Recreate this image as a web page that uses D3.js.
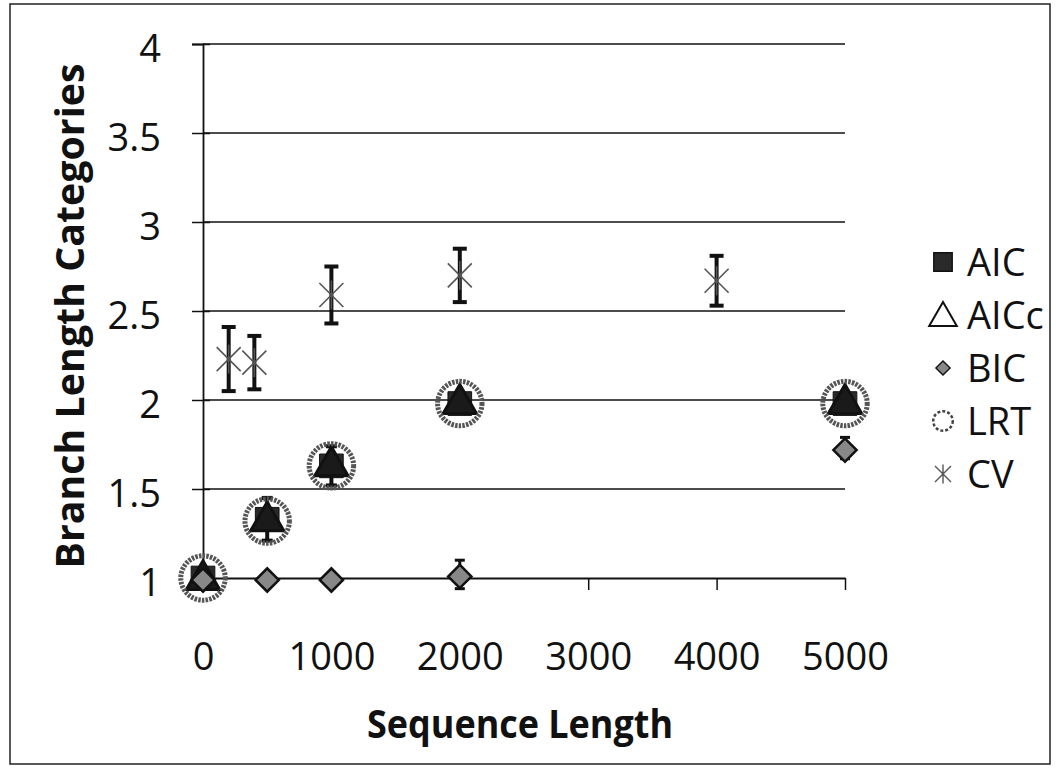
<!DOCTYPE html>
<html>
<head>
<meta charset="utf-8">
<script src="https://cdn.jsdelivr.net/npm/d3@7"></script>
<style>
  body { margin: 0; background: #fff; }
  svg { display: block; font-family: "Open Sans", sans-serif; }
</style>
</head>
<body>
<svg id="chart" width="1058" height="772"></svg>
<script>
// values
const seqLen = [0, 500, 1000, 2000, 5000];
const aic  = [1, 1.33, 1.63, 1.98, 1.98];
const aicErr = [0, 0.12, 0.11, 0.03, 0.03];
const aicc = [1, 1.33, 1.64, 1.99, 1.99];
const bic  = [1, 1.0, 1.0, 1.02, 1.73];
const bicErr = [0, 0, 0, 0.08, 0.06];
const lrt  = [1, 1.32, 1.63, 1.98, 1.98];
const cvLen = [200, 400, 1000, 2000, 4000];
const cv    = [2.23, 2.21, 2.59, 2.70, 2.67];
const cvErr = [0.18, 0.15, 0.16, 0.15, 0.14];
const yTicks = [1, 1.5, 2, 2.5, 3, 3.5, 4];
const xTicks = [0, 1000, 2000, 3000, 4000, 5000];
const legendNames = ["AIC", "AICc", "BIC", "LRT", "CV"];

const svg = d3.select("#chart");

const x = d3.scaleLinear().domain([0, 5000]).range([203, 845]);
const y = d3.scaleLinear().domain([1, 4]).range([578, 44]);

// outer frame
svg.append("rect")
    .attr("x", 10).attr("y", 4)
    .attr("width", 1040).attr("height", 760)
    .attr("fill", "none").attr("stroke", "#222").attr("stroke-width", 1.5);

// gridlines
svg.append("g")
    .selectAll("line")
    .data(yTicks.slice(1))
    .join("line")
    .attr("x1", x(0)).attr("x2", x(5000))
    .attr("y1", d => y(d)).attr("y2", d => y(d))
    .attr("stroke", "#111").attr("stroke-width", 1.5);

// y axis
const yAxis = svg.append("g")
    .attr("transform", `translate(${x(0)},0)`)
    .call(d3.axisLeft(y).tickValues(yTicks).tickSize(11).tickPadding(31).tickFormat(d => d));
yAxis.select(".domain").attr("stroke", "#111").attr("stroke-width", 1.8);
yAxis.selectAll(".tick line").attr("x1", 7).attr("stroke", "#111").attr("stroke-width", 1.5);
yAxis.selectAll(".tick text")
    .attr("font-size", 38).attr("fill", "#111")
    .attr("font-family", "Open Sans").attr("dy", "0.45em");

// x axis
const xAxis = svg.append("g")
    .attr("transform", `translate(0,${y(1)})`)
    .call(d3.axisBottom(x).tickValues(xTicks).tickSize(12).tickSizeOuter(0).tickFormat(d => d));
xAxis.select(".domain").attr("stroke", "#111").attr("stroke-width", 1.8);
xAxis.selectAll(".tick line").attr("stroke", "#111").attr("stroke-width", 1.5);
xAxis.selectAll(".tick text")
    .attr("font-size", 38).attr("fill", "#111")
    .attr("font-family", "Open Sans").attr("y", 65).attr("dy", "0.71em");

// axis titles
svg.append("text")
    .attr("x", 520).attr("y", 738)
    .attr("text-anchor", "middle")
    .attr("font-size", 40).attr("font-weight", "bold").attr("fill", "#111")
    .attr("textLength", 306).attr("lengthAdjust", "spacingAndGlyphs")
    .text("Sequence Length");

svg.append("text")
    .attr("transform", "translate(84,316) rotate(-90)")
    .attr("text-anchor", "middle")
    .attr("font-size", 40).attr("font-weight", "bold").attr("fill", "#111")
    .attr("textLength", 505).attr("lengthAdjust", "spacingAndGlyphs")
    .text("Branch Length Categories");

// marker shapes
const sq = d3.symbol().type(d3.symbolSquare);
const tri = d3.symbol().type(d3.symbolTriangle);
const circ = d3.symbol().type(d3.symbolCircle);

function star(s) {
    const h = s / 2;
    return `M${-h},${-h}L${h},${h}M${-h},${h}L${h},${-h}M0,${-h * 1.2}L0,${h * 1.2}`;
}

function errorBars(g, xs, ys, es, w, cap) {
    const data = xs.map((d, i) => ({x: d, y: ys[i], e: es[i]})).filter(d => d.e > 0);
    const eb = g.append("g").attr("stroke", "#111");
    eb.selectAll(".v").data(data).join("line")
        .attr("x1", d => x(d.x)).attr("x2", d => x(d.x))
        .attr("y1", d => y(d.y - d.e)).attr("y2", d => y(d.y + d.e))
        .attr("stroke-width", w);
    eb.selectAll(".t").data(data).join("line")
        .attr("x1", d => x(d.x) - cap / 2).attr("x2", d => x(d.x) + cap / 2)
        .attr("y1", d => y(d.y + d.e)).attr("y2", d => y(d.y + d.e))
        .attr("stroke-width", w);
    eb.selectAll(".b").data(data).join("line")
        .attr("x1", d => x(d.x) - cap / 2).attr("x2", d => x(d.x) + cap / 2)
        .attr("y1", d => y(d.y - d.e)).attr("y2", d => y(d.y - d.e))
        .attr("stroke-width", w);
}

const plot = svg.append("g");

// AIC
errorBars(plot, seqLen, aic, aicErr, 4, 11);
plot.append("g").selectAll("path")
    .data(seqLen.map((d, i) => [d, aic[i]]))
    .join("path")
    .attr("transform", d => `translate(${x(d[0])},${y(d[1])})`)
    .attr("d", sq.size(560))
    .attr("fill", "#2a2a2a").attr("stroke", "#111");

// AICc
plot.append("g").selectAll("path")
    .data(seqLen.map((d, i) => [d, aicc[i]]))
    .join("path")
    .attr("transform", d => `translate(${x(d[0])},${y(d[1]) + 2})`)
    .attr("d", tri.size(480))
    .attr("fill", "#1a1a1a").attr("stroke", "#111").attr("stroke-width", 3);

// BIC
errorBars(plot, seqLen, bic, bicErr, 3, 10);
plot.append("g").selectAll("path")
    .data(seqLen.map((d, i) => [d, bic[i]]))
    .join("path")
    .attr("transform", d => `translate(${x(d[0])},${y(d[1]) + 2}) rotate(45)`)
    .attr("d", sq.size(270))
    .attr("fill", "#888").attr("stroke", "#111").attr("stroke-width", 2.5);

// LRT
plot.append("g").selectAll("path")
    .data(seqLen.map((d, i) => [d, lrt[i]]))
    .join("path")
    .attr("transform", d => `translate(${x(d[0])},${y(d[1])})`)
    .attr("d", circ.size(1550))
    .attr("fill", "none").attr("stroke", "#555").attr("stroke-width", 5)
    .attr("stroke-dasharray", "2.5,1.2");

// CV
errorBars(plot, cvLen, cv, cvErr, 4, 14);
plot.append("g").selectAll("path")
    .data(cvLen.map((d, i) => [d, cv[i]]))
    .join("path")
    .attr("transform", d => `translate(${x(d[0])},${y(d[1])})`)
    .attr("d", star(24))
    .attr("fill", "none").attr("stroke", "#555").attr("stroke-width", 1.6);

// legend
const legend = svg.append("g");
const rows = legend.selectAll("g")
    .data(legendNames)
    .join("g")
    .attr("transform", (d, i) => `translate(943,${262 + i * 53})`);

rows.append("path")
    .attr("d", (d, i) => {
        if (i === 0) return sq.size(340)();
        if (i === 1) return tri.size(330)();
        if (i === 2) return sq.size(100)();
        if (i === 3) return circ.size(300)();
        return star(16);
    })
    .attr("transform", (d, i) => i === 2 ? "rotate(45)" : i === 1 ? "translate(0,3)" : null)
    .attr("fill", (d, i) => i === 0 ? "#2a2a2a" : i === 2 ? "#888" : "none")
    .attr("stroke", (d, i) => i === 3 ? "#444" : i === 4 ? "#555" : "#111")
    .attr("stroke-width", (d, i) => i === 1 ? 2 : i === 3 ? 2.5 : 1.4)
    .attr("stroke-dasharray", (d, i) => i === 3 ? "3,2" : null);

rows.append("text")
    .attr("x", 24).attr("dy", "0.36em")
    .attr("font-size", 38).attr("fill", "#111")
    .text(d => d);
</script>
</body>
</html>
